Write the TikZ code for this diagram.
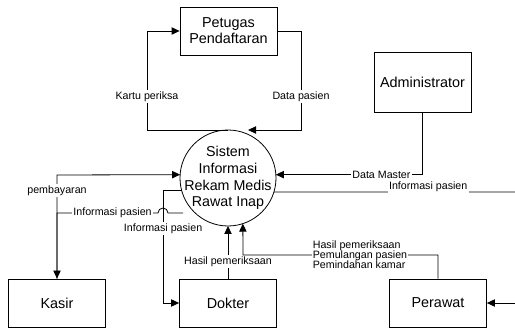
\documentclass[tikz,border=0pt]{standalone}
\usepackage{fontspec}
\setmainfont{Liberation Sans}
\usetikzlibrary{arrows.meta}

\begin{document}
\begin{tikzpicture}[x=0.75pt, y=-0.75pt,
		entity/.style={draw, line width=0.6pt, minimum width=72.75pt, minimum height=36pt, inner sep=1pt, align=center, font=\fontsize{10.8}{12}\selectfont},
		proses/.style={draw, circle, line width=0.6pt, minimum size=72pt, inner sep=-8pt, outer sep=0pt, align=center, font=\fontsize{10.7}{12.5}\selectfont},
		alir/.style={line width=0.6pt, -{Triangle[length=6pt, width=5.5pt]}},
		ket/.style={fill=white, inner sep=1pt, align=left, font=\fontsize{8}{7.5}\selectfont}]
	%%%%% START %%%%%
	\useasboundingbox (0, 0) rectangle (515, 328);
	
	\node[entity] (petugas) at (228.5, 31) {Petugas\\Pendaftaran};
	\node[entity, minimum height=45pt] (admin) at (422.5, 82) {Administrator};
	\node[proses] (sys) at (228, 178) {Sistem\\Informasi\\Rekam Medis\\Rawat Inap};
	\node[entity] (kasir) at (57, 303) {Kasir};
	\node[entity] (dokter) at (228, 303) {Dokter};
	\node[entity] (perawat) at (438, 303) {Perawat};
	
	\coordinate (kp) at (147, 130);
	\coordinate (dp) at (301, 130);
	\coordinate (dpin) at (248, 130);
	\coordinate (byr) at (57, 175);
	\coordinate (ipk) at (183, 213);
	\coordinate (ipkk) at (57, 213);
	\coordinate (iprw) at (515, 192);
	\coordinate (prw) at (243, 255);
	\coordinate (prwin) at (515, 303);
	
	% petugas pendaftaran
	\draw[alir] (sys.north) -- (kp) |- node[ket, pos=0.17] (lkp) {Kartu periksa} (petugas.west);
	\draw[alir] (petugas.east) -| node[ket, pos=0.83] (ldp) {Data pasien} (dp) -- (dpin);
	
	% administrator
	\draw[alir] (admin.south) |- node[ket, pos=0.64] (ldm) {Data Master} (sys.4);
	\draw[line width=0.6pt] (sys.-17) -- node[ket, pos=0.64, yshift=4pt] (lipr) {Informasi pasien} (iprw);
	
	% kasir
	\draw[alir] (kasir.north) -- node[ket, pos=0.85] (lbyr) {pembayaran} (byr) -- (sys.176);
	\draw[alir] (ipk) -- (168, 213) arc[start angle=0, end angle=-180, radius=5] -- node[ket, pos=0.45] (lipk) {Informasi pasien} (ipkk) -- (kasir.north);
	
	% dokter
	\draw[alir] (sys.195) -| node[ket, pos=0.67, align=center] (lipd) {Informasi pasien} ([xshift=-12pt]dokter.west) -- (dokter.west);
	\draw[alir] (dokter.north) -- node[ket, pos=0.32] (lhp) {Hasil pemeriksaan} (sys.south);
	
	% perawat
	\draw[alir] (perawat.north) |- node[ket, pos=0.7] (lprw) {Hasil pemeriksaan\\Pemulangan pasien\\Pemindahan kamar} (prw) -- (sys.288);
	\draw[alir] (prwin) -- (perawat.east);
	
	%%%%% END %%%%%
\end{tikzpicture}
\end{document}
